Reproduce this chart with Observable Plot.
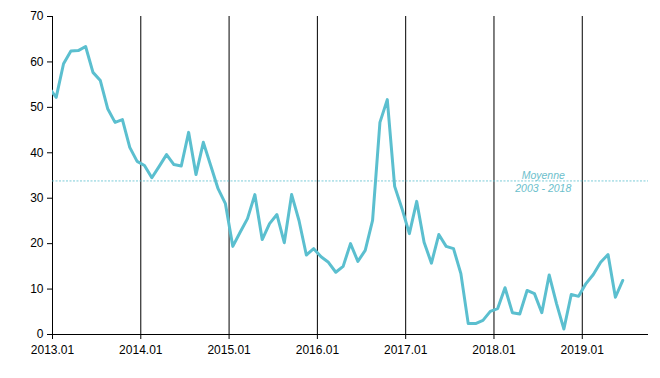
<!DOCTYPE html>
<html>
<head>
<meta charset="utf-8">
<script src="https://cdn.jsdelivr.net/npm/d3@7"></script>
<script src="https://cdn.jsdelivr.net/npm/@observablehq/plot@0.6"></script>
<style>
  body { margin: 0; background: #fff; }
  #chart svg { display: block; }
</style>
</head>
<body>
<div id="chart"></div>
<script>
// Monthly values, first entry is 2012.12 (partly visible at the left edge)
const firstMonth = "2012.12";
const values = [
  54.4,
  52.2, 59.6, 62.4, 62.5, 63.4, 57.7, 55.9, 49.7, 46.7, 47.3, 41.2, 38.1,   // 2013
  37.2, 34.5, 37.0, 39.6, 37.4, 37.1, 44.5, 35.2, 42.3, 37.2, 32.1, 28.8,   // 2014
  19.4, 22.5, 25.5, 30.8, 20.9, 24.4, 26.4, 20.2, 30.8, 25.1, 17.5, 18.9,   // 2015
  17.1, 15.9, 13.7, 15.0, 20.0, 16.1, 18.5, 25.1, 46.7, 51.7, 32.6, 27.7,   // 2016
  22.2, 29.3, 20.3, 15.7, 22.0, 19.4, 18.9, 13.4, 2.4, 2.4, 3.1, 5.1,       // 2017
  5.7, 10.3, 4.8, 4.5, 9.7, 9.0, 4.8, 13.1, 6.8, 1.2, 8.8, 8.4,             // 2018
  11.2, 13.2, 15.9, 17.6, 8.2, 11.9                                          // 2019
];
const yearLabels = ["2013.01", "2014.01", "2015.01", "2016.01", "2017.01", "2018.01", "2019.01"];
const yTicks = [0, 10, 20, 30, 40, 50, 60, 70];
const average = 33.8;
const averageLabel = "Moyenne\n2003 - 2018";
const averageLabelMonth = 66.7;
const monthsShown = 81;

// months since 2013.01, points placed at mid-month
const startOffset = -1;
const data = values.map((v, i) => ({ m: startOffset + i + 0.5, v }));
const yearTicks = yearLabels.map((_, i) => i * 12);

const lineColor = "#5bbfcf";

const chart = Plot.plot({
  width: 660,
  height: 378,
  marginLeft: 52,
  marginRight: 12,
  marginTop: 16,
  marginBottom: 44,
  style: { fontFamily: "'Liberation Sans', Arial, sans-serif", fontSize: "12px", color: "#000", background: "#fff" },
  x: { domain: [0, monthsShown], axis: null },
  y: { domain: [0, 70], axis: null },
  marks: [
    Plot.ruleX(yearTicks, { stroke: "#000", strokeWidth: 1, y1: 0, y2: 70 }),
    Plot.ruleY([average], { stroke: lineColor, strokeWidth: 0.8, strokeDasharray: "2,1.5" }),
    Plot.text([{ m: averageLabelMonth, v: average, t: averageLabel }], {
      x: "m", y: "v", text: "t", fill: "#6cc0cc", fontStyle: "italic", fontSize: 10.5,
      lineHeight: 1.25, textAnchor: "middle", lineAnchor: "middle"
    }),
    Plot.line(data, { x: "m", y: "v", stroke: lineColor, strokeWidth: 3, clip: true }),
    Plot.ruleY([0], { stroke: "#000", strokeWidth: 1 }),
    Plot.axisY({ ticks: yTicks, tickSize: 5, tickPadding: 4, fontSize: 12, color: "#000", anchor: "left", label: null }),
    Plot.axisX({ ticks: yearTicks, tickSize: 5, tickPadding: 6, fontSize: 12, color: "#000",
      tickFormat: d => yearLabels[d / 12], anchor: "bottom", label: null })
  ]
});
document.getElementById("chart").appendChild(chart);
</script>
</body>
</html>
